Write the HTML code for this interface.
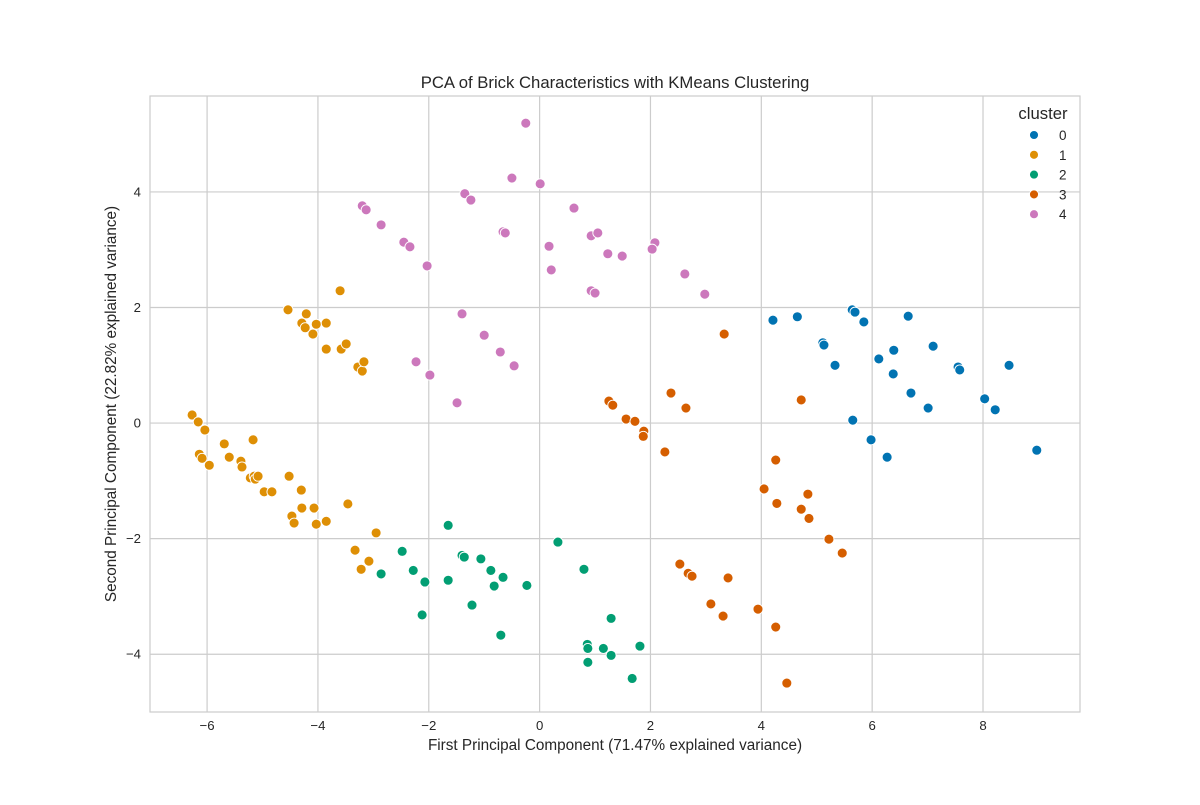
<!DOCTYPE html>
<html><head><meta charset="utf-8"><style>
body{margin:0;background:#fff;font-family:"Liberation Sans",sans-serif}
</style></head><body>
<svg id="chart" width="1200" height="800" xmlns="http://www.w3.org/2000/svg" font-family="Liberation Sans, sans-serif">
<rect width="1200" height="800" fill="#fff"/>
<g id="grid"></g><g id="points"></g><g id="ticks"></g>
<rect x="150" y="96" width="930" height="616" fill="none" stroke="#cccccc" stroke-width="1.2"/>
<text x="615" y="88" text-anchor="middle" font-size="16.7" fill="#262626">PCA of Brick Characteristics with KMeans Clustering</text>
<text x="615" y="750" text-anchor="middle" font-size="15.3" fill="#262626">First Principal Component (71.47% explained variance)</text>
<text transform="translate(116,404) rotate(-90)" text-anchor="middle" font-size="15.3" fill="#262626">Second Principal Component (22.82% explained variance)</text>
<g id="legend"></g>
</svg>
<script>
const clusterLabels = ["0","1","2","3","4"];
const colors = ["#0173b2","#de8f05","#029e73","#d55e00","#cc78bc"];
const xTicks = [-6,-4,-2,0,2,4,6,8];
const yTicks = [-4,-2,0,2,4];
const c0x=[4.21,4.65,5.11,5.13,5.33,5.64,5.69,5.85,5.65,5.98,6.12,6.27,6.38,6.39,6.65,6.70,7.01,7.10,7.55,7.58,8.03,8.22,8.47,8.97];
const c0y=[1.78,1.84,1.39,1.35,1.00,1.96,1.92,1.75,0.05,-0.29,1.11,-0.59,0.85,1.26,1.85,0.52,0.26,1.33,0.97,0.92,0.42,0.23,1.00,-0.47];
const c1x=[-6.27,-6.16,-6.04,-6.14,-6.09,-5.96,-5.69,-5.60,-5.39,-5.37,-5.17,-5.22,-5.15,-5.13,-5.08,-4.97,-4.83,-4.52,-4.47,-4.43,-4.30,-4.29,-4.07,-4.03,-3.85,-3.46,-2.95,-3.33,-3.22,-3.08,-4.54,-4.29,-4.21,-4.23,-4.09,-4.03,-3.85,-3.85,-3.60,-3.58,-3.49,-3.28,-3.20,-3.17];
const c1y=[0.14,0.02,-0.12,-0.54,-0.61,-0.73,-0.36,-0.59,-0.66,-0.76,-0.29,-0.95,-0.92,-0.97,-0.92,-1.19,-1.19,-0.92,-1.61,-1.73,-1.16,-1.47,-1.47,-1.75,-1.70,-1.40,-1.90,-2.20,-2.53,-2.39,1.96,1.73,1.89,1.65,1.54,1.71,1.73,1.28,2.29,1.28,1.37,0.97,0.90,1.06];
const c2x=[-1.65,-1.40,-1.36,-1.06,-0.88,-0.82,-0.66,-0.23,0.33,0.80,1.29,-1.22,-2.12,-1.65,-2.07,-2.28,-2.48,-2.86,-0.70,0.86,0.87,1.15,1.29,0.87,1.81,1.67];
const c2y=[-1.77,-2.29,-2.32,-2.35,-2.55,-2.82,-2.67,-2.81,-2.06,-2.53,-3.38,-3.15,-3.32,-2.72,-2.75,-2.55,-2.22,-2.61,-3.67,-3.83,-3.90,-3.90,-4.02,-4.14,-3.86,-4.42];
const c3x=[3.33,4.72,2.37,2.64,1.25,1.32,1.56,1.72,1.88,1.87,2.26,4.26,4.05,4.28,4.84,4.72,4.86,5.22,5.46,2.53,2.68,2.75,3.40,3.09,3.31,3.94,4.26,4.46];
const c3y=[1.54,0.40,0.52,0.26,0.38,0.31,0.07,0.03,-0.14,-0.23,-0.50,-0.64,-1.14,-1.39,-1.23,-1.49,-1.65,-2.01,-2.25,-2.44,-2.60,-2.65,-2.68,-3.13,-3.34,-3.22,-3.53,-4.50];
const c4x=[-0.25,-0.50,0.01,-1.35,-1.24,-3.20,-3.13,0.62,-2.86,-2.45,-2.34,-0.66,-0.62,0.93,1.05,0.17,2.08,2.03,1.23,1.49,-2.03,0.21,2.62,0.93,1.00,2.98,-1.40,-1.00,-0.71,-2.23,-1.98,-0.46,-1.49];
const c4y=[5.19,4.24,4.14,3.97,3.86,3.76,3.69,3.72,3.43,3.13,3.05,3.31,3.29,3.24,3.29,3.06,3.12,3.01,2.93,2.89,2.72,2.65,2.58,2.29,2.25,2.23,1.89,1.52,1.23,1.06,0.83,0.99,0.35];
const seriesX=[c0x,c1x,c2x,c3x,c4x], seriesY=[c0y,c1y,c2y,c3y,c4y];

const NS="http://www.w3.org/2000/svg";
const L=150,R=1080,T=96,B=712, xMin=-7.03,xMax=9.75,yMin=-5.0,yMax=5.66;
const sx=v=>L+(v-xMin)/(xMax-xMin)*(R-L);
const sy=v=>B-(v-yMin)/(yMax-yMin)*(B-T);
function mk(tag,attrs,parent){const e=document.createElementNS(NS,tag);for(const k in attrs)e.setAttribute(k,attrs[k]);parent.appendChild(e);return e;}
const grid=document.getElementById('grid'), ticks=document.getElementById('ticks'), pts=document.getElementById('points'), leg=document.getElementById('legend');
xTicks.forEach(v=>{
  const l=mk('line',{x1:sx(v),x2:sx(v),y1:T,y2:B,stroke:'#cccccc','stroke-width':1.2},grid);
  
  
  const t=mk('text',{x:sx(v),y:B+18,'text-anchor':'middle','font-size':13.2,fill:'#262626'},ticks);
  t.textContent=(v<0?'\u2212'+(-v):v);
  
  
});
yTicks.forEach(v=>{
  const l=mk('line',{x1:L,x2:R,y1:sy(v),y2:sy(v),stroke:'#cccccc','stroke-width':1.2},grid);
  
  
  const t=mk('text',{x:L-9,y:sy(v)+4.5,'text-anchor':'end','font-size':13.2,fill:'#262626'},ticks);
  t.textContent=(v<0?'\u2212'+(-v):v);
  
  
});
seriesX.forEach((xs,i)=>{
  xs.forEach((x,j)=>{
    const c=mk('circle',{cx:sx(x),cy:sy(seriesY[i][j]),r:5,fill:colors[i],stroke:'#fff','stroke-width':0.9},pts);
    
    
  });
});
const lt=mk('text',{x:1043,y:119,'text-anchor':'middle','font-size':16.7,fill:'#262626'},leg);
lt.textContent='cluster';


clusterLabels.forEach((lab,i)=>{
  const y=135+i*19.8;
  const c=mk('circle',{cx:1034,cy:y,r:4.5,fill:colors[i],stroke:'#fff','stroke-width':0.9},leg);
  
  
  const t=mk('text',{x:1059,y:y+5,'font-size':13.5,fill:'#262626'},leg);
  t.textContent=lab;
  
  
});
</script>
</body></html>
